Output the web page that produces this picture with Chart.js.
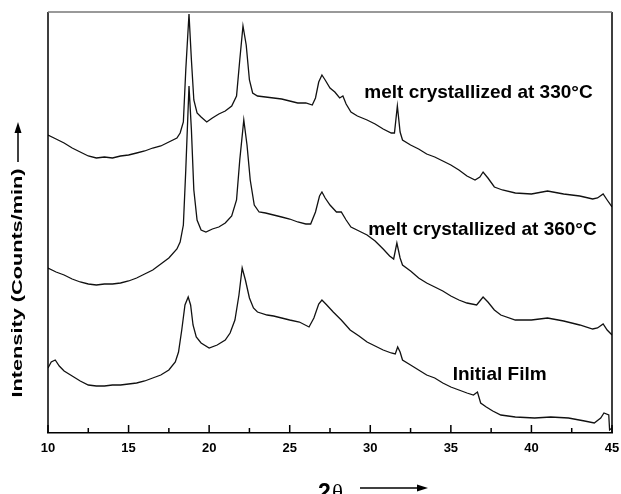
<!DOCTYPE html>
<html>
<head>
<meta charset="utf-8">
<script src="https://cdn.jsdelivr.net/npm/chart.js@4.4.1/dist/chart.umd.min.js"></script>
<style>
  html, body { margin: 0; padding: 0; background: #fff; }
  #wrap { width: 621px; height: 494px; position: relative; }
</style>
</head>
<body>
<div id="wrap"><canvas id="xrdChart"></canvas></div>
<script>
/* ── data: 2θ (deg) and intensity (arbitrary units) ── */
const melt330Angle = [
  10.0, 10.5, 11.0, 11.5, 12.0, 12.5, 13.0, 13.5, 14.0, 14.5,
  15.0, 15.5, 16.0, 16.5, 17.0, 17.5, 18.0, 18.2, 18.4, 18.55,
  18.75, 18.9, 19.05, 19.25, 19.5, 19.85, 20.2, 20.6, 21.0, 21.4,
  21.7, 21.9, 22.1, 22.3, 22.5, 22.7, 23.0, 23.5, 24.0, 24.5,
  25.0, 25.5, 26.0, 26.4, 26.6, 26.8, 27.0, 27.2, 27.5, 27.8,
  28.1, 28.3, 28.5, 28.8, 29.2, 29.8, 30.3, 30.8, 31.3, 31.5,
  31.68, 31.85, 32.0, 32.5, 33.0, 33.5, 34.0, 34.5, 35.0, 35.5,
  36.0, 36.5, 36.8, 37.0, 37.3, 37.7, 38.2, 39.0, 40.0, 41.0,
  42.0, 43.0, 43.8, 44.1, 44.45, 44.7, 45.0
];
const melt330Counts = [
  298, 294, 290, 285, 281, 277, 275, 276, 275, 277,
  278, 280, 282, 285, 287, 291, 295, 300, 311, 363,
  419, 373, 333, 320, 316, 311, 315, 319, 322, 327,
  337, 373, 407, 388, 353, 340, 337, 336, 335, 334,
  332, 330, 330, 328, 335, 351, 358, 353, 345, 341,
  335, 337, 329, 321, 317, 313, 309, 304, 300, 300,
  327, 301, 293, 288, 284, 279, 276, 272, 268, 263,
  257, 253, 256, 261, 255, 246, 243, 240, 239, 242,
  239, 237, 234, 235, 239, 233, 226
];

const melt360Angle = [
  10.0, 10.5, 11.0, 11.5, 12.0, 12.5, 13.0, 13.5, 14.0, 14.5,
  15.0, 15.5, 16.0, 16.5, 17.0, 17.5, 18.0, 18.2, 18.4, 18.55,
  18.75, 18.9, 19.05, 19.25, 19.5, 19.8, 20.2, 20.6, 21.0, 21.4,
  21.7, 21.9, 22.15, 22.35, 22.55, 22.8, 23.1, 23.5, 24.0, 24.5,
  25.0, 25.5, 26.0, 26.3, 26.6, 26.85, 27.0, 27.2, 27.5, 27.9,
  28.2, 28.5, 28.8, 29.3, 29.8, 30.3, 30.8, 31.2, 31.45, 31.65,
  31.85, 32.0, 32.5, 33.0, 33.5, 34.0, 34.5, 35.0, 35.5, 36.0,
  36.6, 36.8, 37.0, 37.3, 37.7, 38.1, 39.0, 40.0, 41.0, 42.0,
  43.0, 43.8, 44.1, 44.45, 44.7, 45.0
];
const melt360Counts = [
  165, 161, 158, 154, 151, 149, 148, 149, 149, 150,
  152, 155, 159, 163, 169, 175, 184, 191, 208, 263,
  347, 303, 243, 213, 203, 201, 204, 206, 210, 217,
  233, 273, 313, 288, 253, 228, 221, 220, 218, 216,
  214, 211, 209, 209, 221, 237, 241, 235, 228, 221,
  221, 213, 206, 202, 198, 192, 184, 177, 174, 190,
  175, 168, 162, 155, 150, 146, 142, 137, 133, 130,
  128, 132, 136, 131, 123, 118, 113, 113, 115, 112,
  108, 104, 105, 109, 103, 98
];

const filmAngle = [
  10.0, 10.2, 10.45, 10.7, 11.0, 11.5, 12.0, 12.5, 13.0, 13.5,
  14.0, 14.5, 15.0, 15.5, 16.0, 16.5, 17.0, 17.5, 17.9, 18.1,
  18.3, 18.5, 18.7, 18.85, 19.0, 19.2, 19.5, 20.0, 20.5, 21.0,
  21.3, 21.6, 21.85, 22.05, 22.25, 22.5, 22.75, 23.0, 23.6, 24.0,
  24.5, 25.0, 25.6, 26.2, 26.5, 26.8, 27.0, 27.3, 27.7, 28.2,
  28.75, 29.3, 29.8, 30.3, 30.8, 31.3, 31.55, 31.7, 31.85, 32.0,
  32.5, 33.0, 33.5, 34.0, 34.5, 35.0, 35.5, 36.0, 36.4, 36.65,
  36.85, 37.2, 37.6, 38.1, 39.0, 40.2, 41.2, 42.3, 43.3, 43.9,
  44.3, 44.5, 44.8, 44.85, 45.0
];
const filmCounts = [
  65, 71, 73, 67, 62, 57, 52, 48, 47, 47,
  48, 48, 49, 50, 52, 55, 58, 63, 71, 81,
  103, 128, 136, 128, 108, 96, 90, 85, 88, 93,
  100, 113, 138, 165, 153, 135, 125, 121, 118, 117,
  115, 113, 111, 106, 115, 129, 133, 128, 121, 113,
  103, 97, 91, 87, 83, 80, 79, 86, 81, 73,
  68, 63, 58, 55, 50, 46, 43, 40, 38, 41,
  30, 26, 22, 18, 16, 15, 16, 15, 12, 10,
  15, 20, 18, 3, 5
];

const seriesNames = ['melt crystallized at 330°C', 'melt crystallized at 360°C', 'Initial Film'];
const xTicks = [10, 15, 20, 25, 30, 35, 40, 45];
const xMinorTicks = [12.5, 17.5, 22.5, 27.5, 32.5, 37.5, 42.5];

const toPoints = (xs, ys) => xs.map((x, i) => ({ x: x, y: ys[i] }));

/* ── labels, titles, frame, inward ticks ── */
const labelPos = [
  { x: 29.63, y: 340 },
  { x: 29.88, y: 203 },
  { x: 35.11, y: 58 },
];

const decorPlugin = {
  id: 'decor',
  afterDraw(chart) {
    const ctx = chart.ctx;
    const xs = chart.scales.x, ys = chart.scales.y;
    const a = chart.chartArea;
    ctx.save();

    // frame
    ctx.lineWidth = 1.5;
    ctx.strokeStyle = '#000';
    ctx.beginPath();
    ctx.moveTo(a.left, a.bottom); ctx.lineTo(a.left, a.top);
    ctx.moveTo(a.right, a.top); ctx.lineTo(a.right, a.bottom);
    ctx.stroke();
    ctx.strokeStyle = '#777';
    ctx.beginPath();
    ctx.moveTo(a.left, a.top); ctx.lineTo(a.right, a.top);
    ctx.stroke();

    // inward ticks
    ctx.strokeStyle = '#000';
    ctx.lineWidth = 1.5;
    ctx.beginPath();
    xTicks.forEach(v => {
      const px = xs.getPixelForValue(v);
      ctx.moveTo(px, a.bottom); ctx.lineTo(px, a.bottom - 8);
    });
    xMinorTicks.forEach(v => {
      const px = xs.getPixelForValue(v);
      ctx.moveTo(px, a.bottom); ctx.lineTo(px, a.bottom - 5);
    });
    ctx.stroke();

    // series labels
    ctx.fillStyle = '#000';
    ctx.font = 'bold 19px "Liberation Sans", Arial, sans-serif';
    ctx.textBaseline = 'middle';
    ctx.textAlign = 'left';
    seriesNames.forEach((name, i) => {
      ctx.fillText(name, xs.getPixelForValue(labelPos[i].x), ys.getPixelForValue(labelPos[i].y));
    });

    // y title, stretched along the baseline
    const yTitle = 'Intensity (Counts/min)';
    ctx.save();
    ctx.translate(18, 283);
    ctx.rotate(-Math.PI / 2);
    ctx.font = 'bold 14px "Liberation Sans", Arial, sans-serif';
    const w = ctx.measureText(yTitle).width;
    ctx.scale(229 / w, 1);
    ctx.textAlign = 'center';
    ctx.fillText(yTitle, 0, 0);
    ctx.restore();

    // y arrow
    drawArrow(ctx, 18, 162, 18, 122);

    // x title
    ctx.textBaseline = 'alphabetic';
    ctx.font = 'bold 23px "Liberation Sans", Arial, sans-serif';
    ctx.fillText('2', 318, 500);
    ctx.font = '23px "Liberation Serif", serif';
    ctx.fillText('θ', 332, 500);
    drawArrow(ctx, 360, 488, 428, 488);

    ctx.restore();
  }
};

function drawArrow(ctx, x1, y1, x2, y2) {
  const ang = Math.atan2(y2 - y1, x2 - x1);
  const len = 11, half = 3.5;
  ctx.strokeStyle = '#000';
  ctx.fillStyle = '#000';
  ctx.lineWidth = 1.5;
  ctx.beginPath();
  ctx.moveTo(x1, y1);
  ctx.lineTo(x2 - Math.cos(ang) * len, y2 - Math.sin(ang) * len);
  ctx.stroke();
  ctx.beginPath();
  ctx.moveTo(x2, y2);
  ctx.lineTo(x2 - Math.cos(ang) * len - Math.sin(ang) * half, y2 - Math.sin(ang) * len + Math.cos(ang) * half);
  ctx.lineTo(x2 - Math.cos(ang) * len + Math.sin(ang) * half, y2 - Math.sin(ang) * len - Math.cos(ang) * half);
  ctx.closePath();
  ctx.fill();
}

function lineSet(label, xs, ys) {
  return {
    label: label,
    data: toPoints(xs, ys),
    borderColor: '#111',
    borderWidth: 1.3,
    pointRadius: 0,
    tension: 0,
    fill: false,
  };
}

new Chart(document.getElementById('xrdChart').getContext('2d'), {
  type: 'line',
  data: {
    datasets: [
      lineSet(seriesNames[0], melt330Angle, melt330Counts),
      lineSet(seriesNames[1], melt360Angle, melt360Counts),
      lineSet(seriesNames[2], filmAngle, filmCounts),
    ],
  },
  options: {
    responsive: true,
    maintainAspectRatio: false,
    animation: false,
    layout: { padding: { left: 48, right: 9, top: 12, bottom: 0 } },
    plugins: { legend: { display: false }, tooltip: { enabled: false } },
    scales: {
      x: {
        type: 'linear',
        min: 10,
        max: 45,
        afterFit: s => { s.height = 61; s.paddingLeft = 0; s.paddingRight = 0; },
        grid: { display: false, drawTicks: false },
        border: { display: true, color: '#000', width: 1.5 },
        ticks: {
          stepSize: 5,
          padding: 8,
          color: '#000',
          font: { family: '"Liberation Sans", Arial, sans-serif', size: 13, weight: 'bold' },
        },
      },
      y: { display: false, min: 0, max: 421 },
    },
  },
  plugins: [decorPlugin],
});
</script>
</body>
</html>
